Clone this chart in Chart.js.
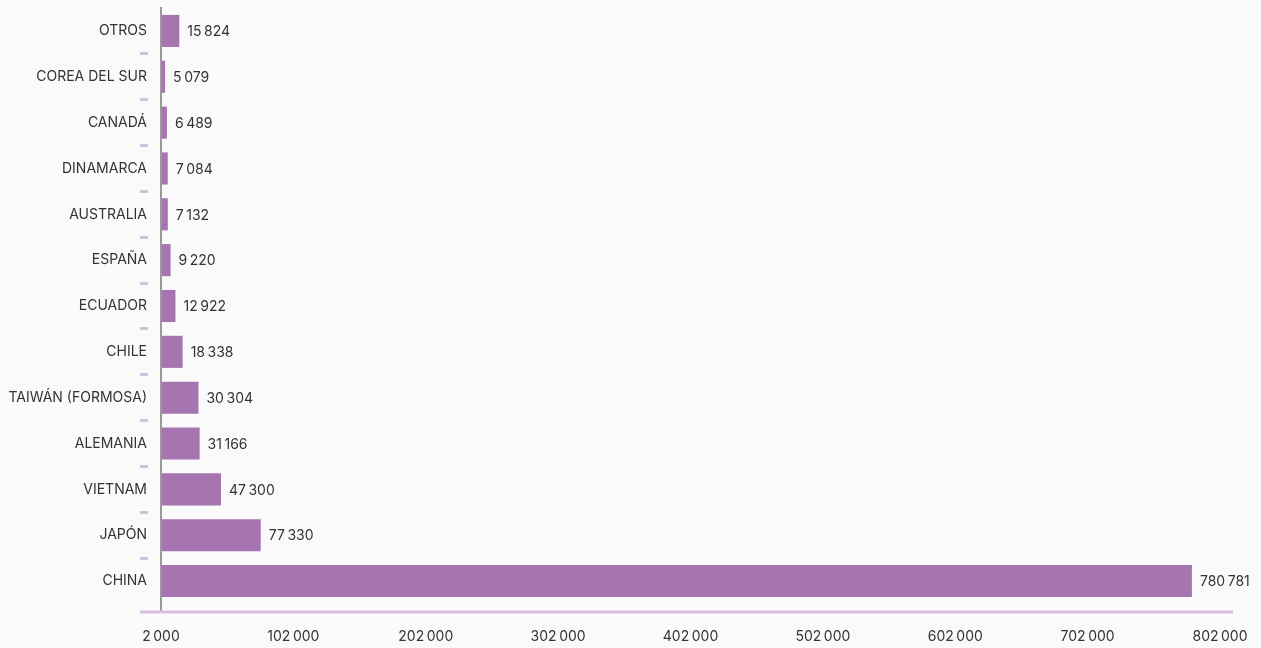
<!DOCTYPE html>
<html>
<head>
<meta charset="utf-8">
<script src="https://cdn.jsdelivr.net/npm/chart.js@4"></script>
<style>
  html, body { margin: 0; padding: 0; background: #fafafa; }
  #wrap { width: 1261px; height: 648px; position: relative; }
</style>
</head>
<body>
<div id="wrap"><canvas id="chart"></canvas></div>
<script>
const paises = ['OTROS', 'COREA DEL SUR', 'CANADÁ', 'DINAMARCA', 'AUSTRALIA', 'ESPAÑA', 'ECUADOR',
    'CHILE', 'TAIWÁN (FORMOSA)', 'ALEMANIA', 'VIETNAM', 'JAPÓN', 'CHINA'];
const valores = [15824, 5079, 6489, 7084, 7132, 9220, 12922, 18338, 30304, 31166, 47300, 77330, 780781];
const ejeMin = 2000;
const ejeMax = 802000;
const ejePaso = 100000;

const morado = '#a574b1';
const moradoClaro = '#d9bde0';
const texto = '#333333';
const fuente = 'Inter, "Open Sans", sans-serif';

function formato(n) {
    return String(n).replace(/\B(?=(\d{3})+(?!\d))/g, '\u202f');
}

// ejes: linea gris vertical y linea morada horizontal que sobresale
const ejesPlugin = {
    id: 'ejes',
    afterDatasetsDraw(chart) {
        const { ctx, chartArea } = chart;
        const base = chartArea.bottom + 8;
        ctx.save();
        ctx.strokeStyle = '#9a9a9a';
        ctx.lineWidth = 2;
        ctx.beginPath();
        ctx.moveTo(chartArea.left, chartArea.top - 1);
        ctx.lineTo(chartArea.left, base);
        ctx.stroke();
        ctx.strokeStyle = moradoClaro;
        ctx.lineWidth = 3;
        ctx.beginPath();
        ctx.moveTo(chartArea.left - 21, base);
        ctx.lineTo(chartArea.right + 13, base);
        ctx.stroke();
        ctx.restore();
    }
};

// etiquetas de valor al final de cada barra
const valoresPlugin = {
    id: 'valores',
    afterDatasetsDraw(chart) {
        const { ctx } = chart;
        const meta = chart.getDatasetMeta(0);
        ctx.save();
        ctx.font = '14px ' + fuente;
        ctx.fillStyle = texto;
        ctx.textAlign = 'left';
        ctx.textBaseline = 'middle';
        meta.data.forEach((bar, i) => {
            ctx.fillText(formato(valores[i]), bar.x + 8, bar.y + 1);
        });
        ctx.restore();
    }
};

new Chart(document.getElementById('chart').getContext('2d'), {
    type: 'bar',
    data: {
        labels: paises,
        datasets: [{
            data: valores,
            backgroundColor: morado,
            borderWidth: 0,
            barPercentage: 0.7,
            categoryPercentage: 1
        }]
    },
    options: {
        indexAxis: 'y',
        responsive: true,
        maintainAspectRatio: false,
        animation: false,
        layout: { padding: { top: 8, left: 8, right: 41, bottom: 0 } },
        plugins: {
            legend: { display: false },
            tooltip: { enabled: false }
        },
        scales: {
            x: {
                min: ejeMin,
                max: ejeMax,
                border: { display: false },
                grid: { display: false, drawTicks: false },
                afterFit: s => {
                    s.height = 44;
                    s.paddingLeft = 0;
                    s.paddingRight = 0;
                },
                ticks: {
                    stepSize: ejePaso,
                    padding: 24,
                    color: texto,
                    font: { family: fuente, size: 14 },
                    callback: v => formato(v)
                }
            },
            y: {
                border: { display: false },
                grid: {
                    display: true,
                    drawOnChartArea: false,
                    drawTicks: true,
                    tickLength: 21,
                    tickWidth: 3,
                    tickBorderDash: [8, 100],
                    tickColor: c => (c.type === 'tick' && c.index > 0) ? moradoClaro : 'rgba(0,0,0,0)'
                },
                afterFit: s => { s.width = 153; },
                ticks: {
                    padding: -7,
                    color: texto,
                    font: { family: fuente, size: 14 }
                }
            }
        }
    },
    plugins: [ejesPlugin, valoresPlugin]
});
</script>
</body>
</html>
